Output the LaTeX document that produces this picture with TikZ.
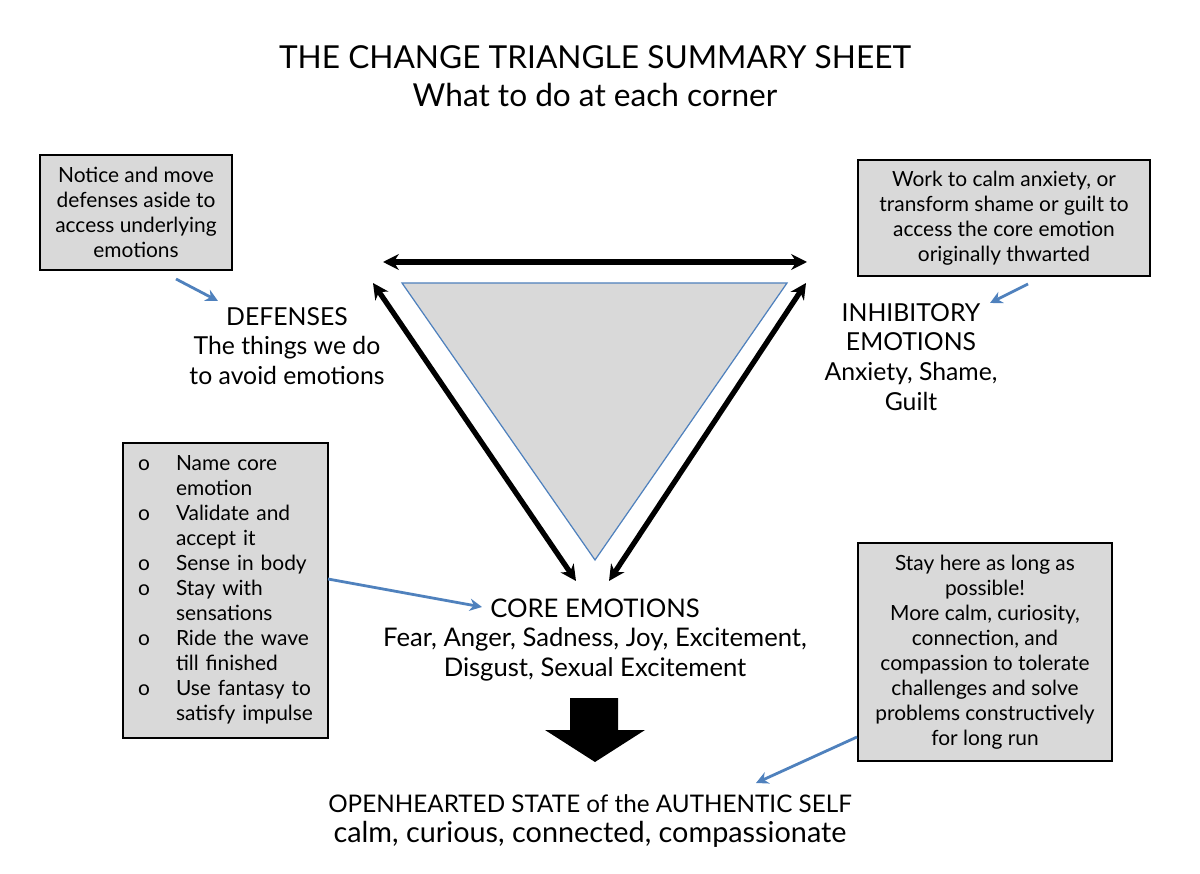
\documentclass[tikz,border=0pt]{standalone}
\usepackage{fontspec}
\setmainfont{Lato}
\usetikzlibrary{arrows.meta, positioning}

\definecolor{boxgray}{HTML}{D9D9D9}
\definecolor{edgeblue}{HTML}{4F81BD}

\newcommand{\titlefont}{\fontsize{18}{21.6}\selectfont}
\newcommand{\cornerfont}{\fontsize{14.1}{17}\selectfont}
\newcommand{\notefont}{\fontsize{11.9}{14.2}\selectfont}

\begin{document}
\begin{tikzpicture}[
    x=0.02cm, y=-0.02cm,
    note/.style={rectangle, draw, line width=0.9pt, fill=boxgray, align=center, font=\notefont, inner sep=0pt},
    corner/.style={align=center, font=\cornerfont, inner sep=0pt},
    dblarr/.style={{Stealth[length=9pt, width=9pt]}-{Stealth[length=9pt, width=9pt]}, line width=3pt},
    pointer/.style={-{Stealth[length=7pt, width=7pt]}, draw=edgeblue, line width=1.6pt},
]
\useasboundingbox (0,0) rectangle (1200,874);

% Title
\node[align=center, font=\titlefont, inner sep=0pt] (title) at (595,76)
    {THE CHANGE TRIANGLE SUMMARY SHEET\\What to do at each corner};

% Triangle
\coordinate (tl) at (402,283);
\coordinate (tr) at (787,283);
\coordinate (bot) at (595,560);
\fill[boxgray] (tl) -- (tr) -- (bot) -- cycle;
\draw[edgeblue, line width=0.7pt] (tl) -- (tr) -- (bot) -- cycle;

% Corner labels
\node[corner] (defenses) at (287,346) {DEFENSES\\The things we do\\to avoid emotions};
\node[corner] (inhib) at (911,357) {INHIBITORY\\EMOTIONS\\Anxiety, Shame,\\Guilt};
\node[corner, font=\fontsize{14.6}{17}\selectfont] (core) at (595,640)
    {CORE EMOTIONS\\Fear, Anger, Sadness, Joy, Excitement,\\Disgust, Sexual Excitement};
\node[align=center, inner sep=0pt] (self) at (590,821)
    {{\fontsize{13.8}{17}\selectfont OPENHEARTED STATE of the AUTHENTIC SELF}\\[4pt]
     {\fontsize{16.4}{17}\selectfont calm, curious, connected, compassionate}};

% Notes
\node[note, minimum width=3.84cm, minimum height=2.3cm] (noteD) at (136,212.5)
    {Notice and move\\defenses aside to\\access underlying\\emotions};
\node[note, minimum width=5.84cm, minimum height=2.32cm] (noteI) at (1004,218)
    {Work to calm anxiety, or\\transform shame or guilt to\\access the core emotion\\originally thwarted};
\node[note, minimum width=4.1cm, minimum height=5.9cm, text width=3.5cm, align=left, inner xsep=0.3cm] (noteC) at (225.5,590.5)
    {\begin{tabular}{@{}p{0.76cm}@{}l@{}}
     o & Name core\\ & emotion\\
     o & Validate and\\ & accept it\\
     o & Sense in body\\
     o & Stay with\\ & sensations\\
     o & Ride the wave\\ & till finished\\
     o & Use fantasy to\\ & satisfy impulse
     \end{tabular}};
\node[note, minimum width=5.08cm, minimum height=4.36cm] (noteS) at (985,652)
    {Stay here as long as\\possible!\\More calm, curiosity,\\connection, and\\compassion to tolerate\\challenges and solve\\problems constructively\\for long run};

% Double arrows round the triangle
\coordinate (hl) at (383,262);
\coordinate (hr) at (807,262);
\coordinate (ltop) at (373,283);
\coordinate (lbot) at (576,581);
\coordinate (rtop) at (806,283);
\coordinate (rbot) at (609,581);
\draw[dblarr] (hl) -- (hr);
\draw[dblarr] (ltop) -- (lbot);
\draw[dblarr] (rtop) -- (rbot);

% Down arrow to the open-hearted state
\fill (570,698) -- (618,698) -- (618,730) -- (645,730) -- (595,762)
    -- (545,730) -- (570,730) -- cycle;

% Blue pointers
\coordinate (pD) at (176,279);
\coordinate (pI) at (1028,284);
\coordinate (pC) at (328,579);
\coordinate (pS) at (857,737);
\draw[pointer] (pD) -- (218,301);
\draw[pointer] (pI) -- (990,303);
\draw[pointer] (pC) -- (482,607);
\draw[pointer] (pS) -- (756,783);

\end{tikzpicture}
\end{document}
